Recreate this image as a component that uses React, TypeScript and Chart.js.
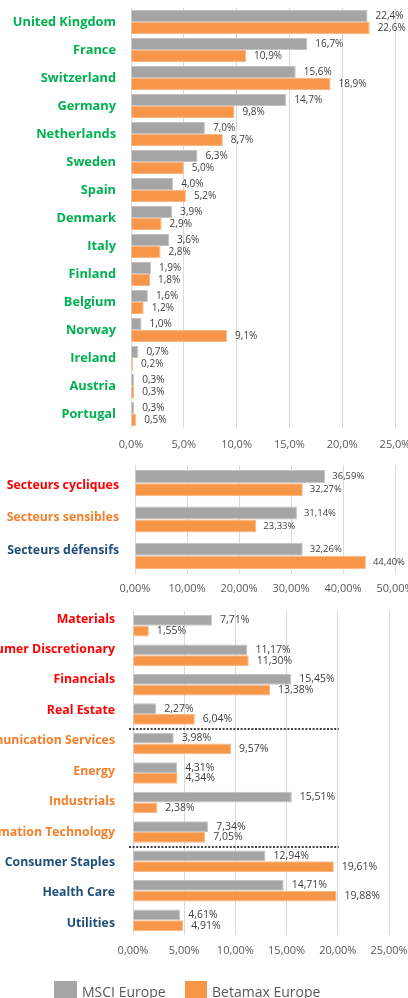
import React, { useEffect, useRef } from "react";
import { Chart, registerables } from "chart.js";
Chart.register(...registerables);

// ---------- DATA ----------
const countries = [
  "United Kingdom", "France", "Switzerland", "Germany", "Netherlands", "Sweden", "Spain",
  "Denmark", "Italy", "Finland", "Belgium", "Norway", "Ireland", "Austria", "Portugal",
];
const countryMsci = [22.4, 16.7, 15.6, 14.7, 7.0, 6.3, 4.0, 3.9, 3.6, 1.9, 1.6, 1.0, 0.7, 0.3, 0.3];
const countryBeta = [22.6, 10.9, 18.9, 9.8, 8.7, 5.0, 5.2, 2.9, 2.8, 1.8, 1.2, 9.1, 0.2, 0.3, 0.5];

const groups = ["Secteurs cycliques", "Secteurs sensibles", "Secteurs défensifs"];
const groupMsci = [36.59, 31.14, 32.26];
const groupBeta = [32.27, 23.33, 44.4];

const sectors = [
  "Materials", "Consumer Discretionary", "Financials", "Real Estate",
  "Communication Services", "Energy", "Industrials", "Information Technology",
  "Consumer Staples", "Health Care", "Utilities",
];
const sectorMsci = [7.71, 11.17, 15.45, 2.27, 3.98, 4.31, 15.51, 7.34, 12.94, 14.71, 4.61];
const sectorBeta = [1.55, 11.3, 13.38, 6.04, 9.57, 4.34, 2.38, 7.05, 19.61, 19.88, 4.91];

const seriesNames = ["MSCI Europe", "Betamax Europe"];

// ---------- STYLES ----------
const GRAY = "#A5A5A5";
const ORANGE = "#F79646";
const RED = "#FF0000";
const ORG = "#F47E2A";
const BLUE = "#1F4E79";
const GREEN = "#00B050";
const FONT = "'Open Sans', sans-serif";

const countryColors = countries.map(() => GREEN);
const groupColors = [RED, ORG, BLUE];
const sectorColors = [RED, RED, RED, RED, ORG, ORG, ORG, ORG, BLUE, BLUE, BLUE];

type PanelProps = {
  top: number;
  height: number;
  labels: string[];
  a: number[];
  b: number[];
  max: number;
  step: number;
  decimals: number;
  labelColors: string[];
  labelRange: [number, number];
  yWidth: number;
  yPad: number;
  padTop: number;
  padRight: number;
  xHeight: number;
  catPct: number;
  labelSize: number;
  valueSize: number;
  tickPad: number;
  valueOffset: number;
  separators?: number[];
};

const fmt = (v: number, d: number) => v.toFixed(d).replace(".", ",") + "%";

function Panel(p: PanelProps) {
  const ref = useRef<HTMLCanvasElement>(null);
  useEffect(() => {
    if (!ref.current) return;
    const valuePlugin = {
      id: "vals",
      afterDatasetsDraw(chart: any) {
        const ctx = chart.ctx;
        ctx.save();
        ctx.font = `${p.valueSize}px ${FONT}`;
        ctx.fillStyle = "#404040";
        ctx.textAlign = "left";
        ctx.textBaseline = "middle";
        chart.data.datasets.forEach((ds: any, di: number) => {
          const meta = chart.getDatasetMeta(di);
          meta.data.forEach((el: any, i: number) => {
            ctx.fillText(fmt(ds.data[i], p.decimals), el.x + p.valueOffset, el.y);
          });
        });
        ctx.restore();
      },
    };
    const sepPlugin = {
      id: "seps",
      afterDatasetsDraw(chart: any) {
        if (!p.separators) return;
        const ctx = chart.ctx;
        const ys = chart.scales.y;
        const xs = chart.scales.x;
        ctx.save();
        ctx.strokeStyle = "#404040";
        ctx.lineWidth = 2;
        ctx.setLineDash([2, 1.6]);
        p.separators.forEach((bnd) => {
          const y = Math.round((ys.getPixelForValue(bnd - 1) + ys.getPixelForValue(bnd)) / 2);
          ctx.beginPath();
          ctx.moveTo(chart.chartArea.left - 4, y);
          ctx.lineTo(xs.getPixelForValue(20) + 1, y);
          ctx.stroke();
        });
        ctx.restore();
      },
    };
    const chart = new Chart(ref.current, {
      type: "bar",
      data: {
        labels: p.labels,
        datasets: [
          {
            label: seriesNames[0],
            data: p.a,
            backgroundColor: GRAY,
            borderColor: "#C4C4C4",
            borderWidth: 1,
            categoryPercentage: p.catPct,
            barPercentage: 1,
          },
          {
            label: seriesNames[1],
            data: p.b,
            backgroundColor: ORANGE,
            borderColor: "#FAB784",
            borderWidth: 1,
            categoryPercentage: p.catPct,
            barPercentage: 1,
          },
        ],
      },
      options: {
        indexAxis: "y",
        responsive: false,
        animation: false,
        events: [],
        layout: { padding: { top: p.padTop, right: p.padRight, left: 0, bottom: 0 } },
        plugins: { legend: { display: false }, tooltip: { enabled: false } },
        scales: {
          x: {
            min: 0,
            max: p.max,
            border: { display: false },
            grid: { color: "#D9D9D9", lineWidth: 1, drawTicks: false },
            ticks: {
              stepSize: p.step,
              padding: p.tickPad,
              color: "#595959",
              font: { family: FONT, size: 11 },
              callback: (v: any) => fmt(Number(v), p.decimals),
            },
            afterFit: (s: any) => {
              s.height = p.xHeight;
              s.paddingLeft = 0;
              s.paddingRight = 0;
            },
          },
          y: {
            position: "left",
            border: { display: false },
            grid: { display: false, drawTicks: false },
            ticks: { display: false },
            afterFit: (s: any) => {
              s.width = 0;
              s.paddingTop = 0;
              s.paddingBottom = 0;
            },
          },
          yl: {
            type: "linear",
            position: "left",
            reverse: true,
            offset: false,
            bounds: "data",
            min: p.labelRange[0],
            max: p.labelRange[1],
            border: { display: false },
            grid: { display: false, drawTicks: false, offset: false },
            afterBuildTicks: (s: any) => {
              s.ticks = p.labels.map((_, i) => ({ value: i }));
            },
            ticks: {
              padding: p.yPad,
              autoSkip: false,
              color: (c: any) => p.labelColors[c.index],
              font: { family: FONT, size: p.labelSize, weight: "bold" },
              callback: (v: any) => p.labels[Math.round(Number(v))],
            },
            afterFit: (s: any) => {
              s.width = p.yWidth;
              s.paddingTop = 0;
              s.paddingBottom = 0;
            },
          },
        },
      } as any,
      plugins: [valuePlugin, sepPlugin],
    });
    return () => chart.destroy();
  }, []);
  return (
    <div style={{ position: "absolute", left: 0, top: p.top, width: 408, height: p.height }}>
      <canvas ref={ref} width={408} height={p.height} style={{ display: "block" }} />
    </div>
  );
}

export default function App() {
  return (
    <div>
      <Panel
        top={0}
        height={460}
        labels={countries}
        a={countryMsci}
        b={countryBeta}
        max={25}
        step={5}
        decimals={1}
        labelColors={countryColors}
        labelRange={[-0.5, 14.5]}
        yWidth={131}
        yPad={15}
        padTop={8}
        padRight={13}
        xHeight={32}
        catPct={0.86}
        labelSize={12.8}
        valueSize={10}
        tickPad={10}
        valueOffset={8}
      />
      <Panel
        top={455}
        height={145}
        labels={groups}
        a={groupMsci}
        b={groupBeta}
        max={50}
        step={10}
        decimals={2}
        labelColors={groupColors}
        labelRange={[-0.643, 2.742]}
        yWidth={135}
        yPad={16}
        padTop={10}
        padRight={13}
        xHeight={26}
        catPct={0.72}
        labelSize={12.3}
        valueSize={9.5}
        tickPad={8}
        valueOffset={7}
      />
      <Panel
        top={600}
        height={370}
        labels={sectors}
        a={sectorMsci}
        b={sectorBeta}
        max={25}
        step={5}
        decimals={2}
        labelColors={sectorColors}
        labelRange={[-0.263, 10.385]}
        yWidth={133}
        yPad={18}
        padTop={11}
        padRight={19}
        xHeight={35}
        catPct={0.73}
        labelSize={12.3}
        valueSize={10.5}
        tickPad={9}
        valueOffset={8}
        separators={[4, 8]}
      />
      <div
        style={{
          position: "absolute",
          left: 0,
          top: 970,
          width: 408,
          height: 28,
          fontFamily: FONT,
          fontSize: 14,
          color: "#595959",
        }}
      >
        <div style={{ position: "absolute", left: 54, top: 11, width: 23, height: 17, background: GRAY }} />
        <div style={{ position: "absolute", left: 82, top: 12, lineHeight: "20px", whiteSpace: "nowrap" }}>
          {seriesNames[0]}
        </div>
        <div style={{ position: "absolute", left: 185, top: 11, width: 22, height: 17, background: ORANGE }} />
        <div style={{ position: "absolute", left: 212, top: 12, lineHeight: "20px", whiteSpace: "nowrap" }}>
          {seriesNames[1]}
        </div>
      </div>
    </div>
  );
}
